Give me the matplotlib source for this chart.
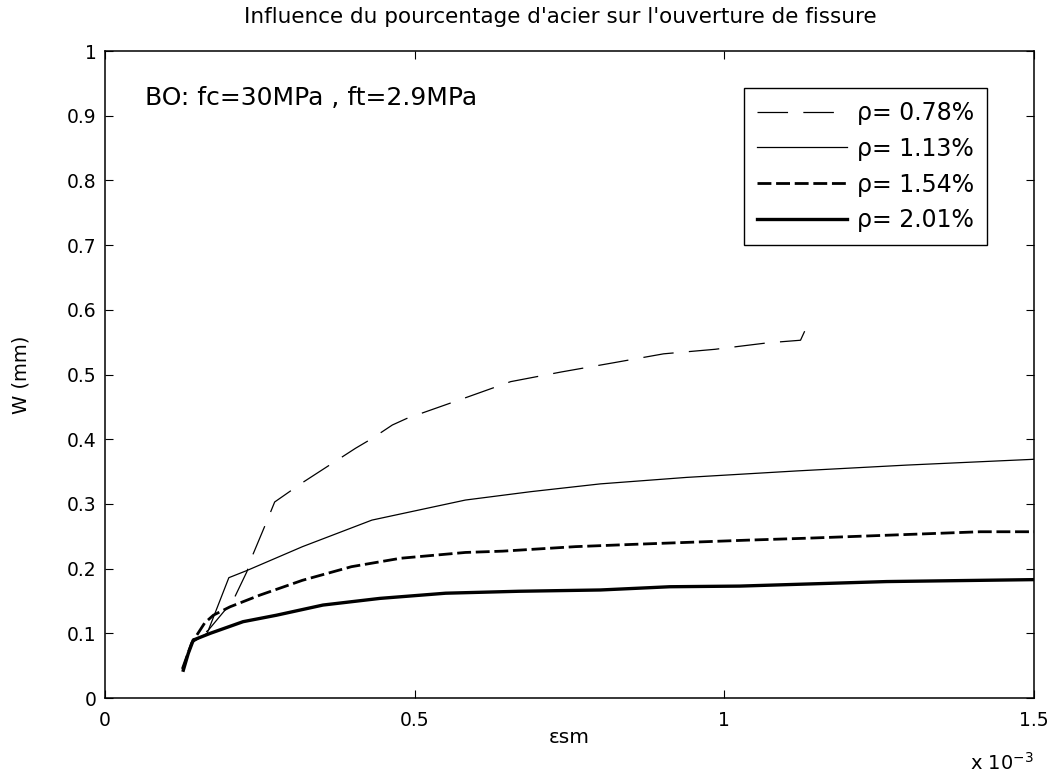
import matplotlib
matplotlib.use("Agg")
import matplotlib.pyplot as plt

plt.rcParams['font.family'] = ['DejaVu Sans']
plt.rcParams['lines.scale_dashes'] = False

# esm in units of 1e-3, W in mm
esm_078 = [0.125, 0.14, 0.167, 0.207, 0.229, 0.2385, 0.261, 0.274, 0.319, 0.4045, 0.431,
           0.464, 0.487, 0.573, 0.655, 0.737, 0.82, 0.902, 0.985, 1.07, 1.123, 1.135]
w_078 = [0.045, 0.085, 0.105, 0.151, 0.195, 0.221, 0.2725, 0.303, 0.333, 0.386, 0.401,
         0.422, 0.432, 0.461, 0.489, 0.504, 0.518, 0.532, 0.539, 0.549, 0.553, 0.578]

esm_113 = [0.125, 0.14, 0.165, 0.20, 0.229, 0.319, 0.431, 0.582, 0.688, 0.80, 0.939,
           1.117, 1.294, 1.5]
w_113 = [0.045, 0.085, 0.10, 0.186, 0.197, 0.234, 0.275, 0.306, 0.319, 0.331, 0.341,
         0.351, 0.360, 0.369]

esm_154 = [0.125, 0.14, 0.161, 0.175, 0.202, 0.25, 0.319, 0.398, 0.477, 0.582, 0.642,
           0.76, 0.853, 1.037, 1.133, 1.316, 1.413, 1.5]
w_154 = [0.045, 0.085, 0.116, 0.128, 0.141, 0.159, 0.182, 0.203, 0.216, 0.225, 0.227,
         0.234, 0.2375, 0.244, 0.247, 0.2535, 0.257, 0.257]

esm_201 = [0.1265, 0.1345, 0.1426, 0.17, 0.223, 0.277, 0.352, 0.444, 0.55, 0.668, 0.80,
           0.912, 1.025, 1.262, 1.5]
w_201 = [0.043, 0.069, 0.0896, 0.10, 0.118, 0.128, 0.1437, 0.154, 0.162, 0.165, 0.167,
         0.172, 0.173, 0.180, 0.183]

labels = ['ρ= 0.78%', 'ρ= 1.13%', 'ρ= 1.54%', 'ρ= 2.01%']

fig = plt.figure(figsize=(10.55, 7.78), dpi=100)
ax = fig.add_axes([0.0995, 0.1028, 0.8806, 0.8316])

ax.plot(esm_078, w_078, color='black', lw=0.9, dashes=(22, 11), label=labels[0])
ax.plot(esm_113, w_113, color='black', lw=0.9, label=labels[1])
ax.plot(esm_154, w_154, color='black', lw=2.0, dashes=(10, 3.4), label=labels[2])
ax.plot(esm_201, w_201, color='black', lw=2.4, label=labels[3])

ax.set_xlim(0, 1.5)
ax.set_ylim(0, 1)
ax.set_xticks([0, 0.5, 1, 1.5])
ax.set_xticklabels(['0', '0.5', '1', '1.5'])
ax.set_yticks([i / 10 for i in range(11)])
ax.set_yticklabels(['0'] + ['0.%d' % i for i in range(1, 10)] + ['1'])
ax.tick_params(direction='in', length=6, width=0.8, top=True, right=True,
               labelsize=13.5)
ax.tick_params(axis='x', pad=9)
ax.tick_params(axis='y', pad=6)
for s in ax.spines.values():
    s.set_linewidth(1.1)

ax.set_title("Influence du pourcentage d'acier sur l'ouverture de fissure",
             fontsize=15.5, pad=20, x=0.49)
ax.set_xlabel('εsm', fontsize=14.5, labelpad=-1)
ax.set_ylabel('W (mm)', fontsize=14, labelpad=26)

ax.text(0.0646, 0.927, 'BO: fc=30MPa , ft=2.9MPa', fontsize=18, va='center')
ax.text(1.0, -0.1, 'x 10$^{-3}$', transform=ax.transAxes, fontsize=14,
        ha='right', va='center')

leg = ax.legend(loc='upper right', bbox_to_anchor=(0.949, 0.943), borderaxespad=0,
                fontsize=17, handlelength=3.8, handletextpad=0.42, fancybox=False,
                framealpha=1, edgecolor='black', labelspacing=0.5, borderpad=0.55)
leg.get_frame().set_linewidth(1.0)

fig.savefig('out.png', dpi=100)
